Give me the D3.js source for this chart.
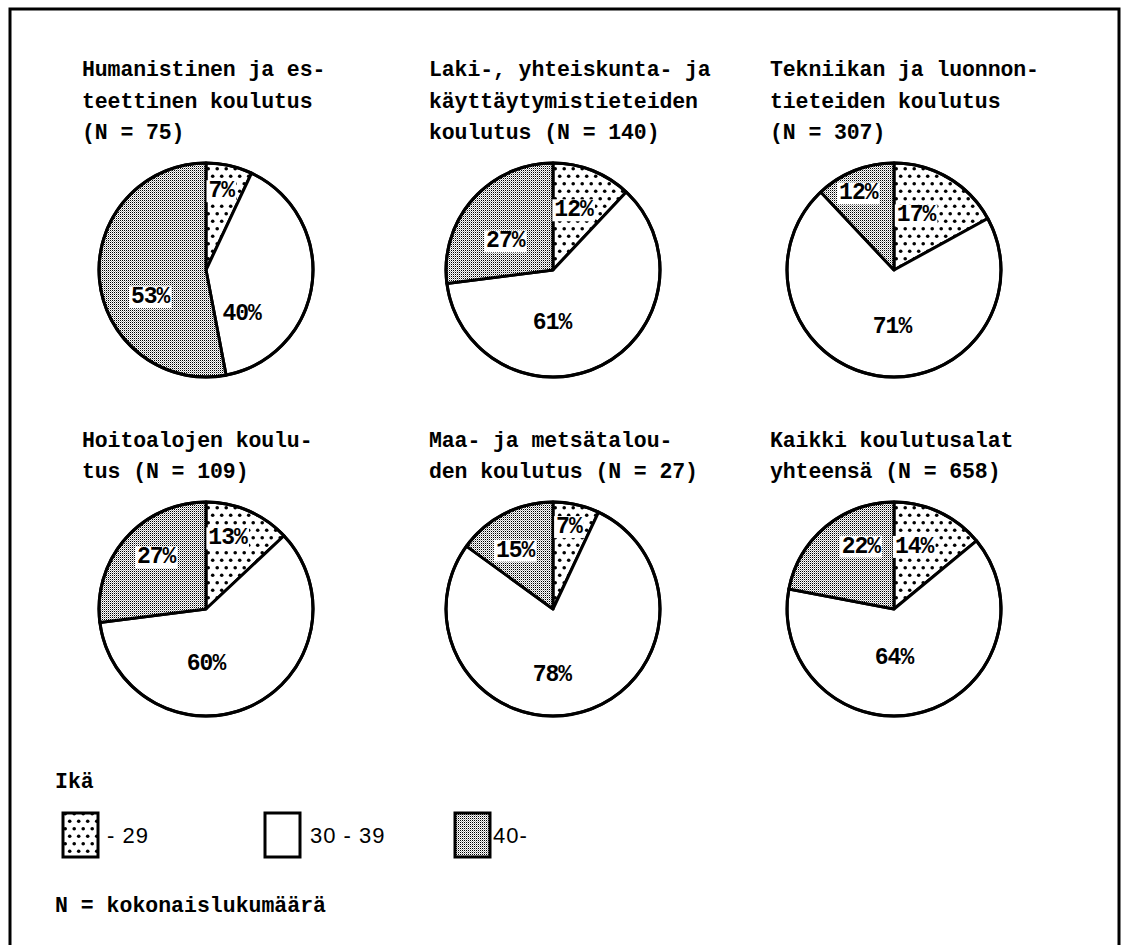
<!DOCTYPE html>
<html><head><meta charset="utf-8">
<script src="https://cdn.jsdelivr.net/npm/d3@7"></script>
<style>body{margin:0;background:#fff}svg{display:block}</style>
</head><body>
<script>
// ---- data ----
const ageGroups = ["- 29", "30 - 39", "40-"];
const titles = [
  ["Humanistinen ja es-", "teettinen koulutus", "(N = 75)"],
  ["Laki-, yhteiskunta- ja", "käyttäytymistieteiden", "koulutus (N = 140)"],
  ["Tekniikan ja luonnon-", "tieteiden koulutus", "(N = 307)"],
  ["Hoitoalojen koulu-", "tus (N = 109)"],
  ["Maa- ja metsätalou-", "den koulutus (N = 27)"],
  ["Kaikki koulutusalat", "yhteensä (N = 658)"]
];
const shareUnder30 = [7, 12, 17, 13, 7, 14];
const share30to39 = [40, 61, 71, 60, 78, 64];
const share40plus = [53, 27, 12, 27, 15, 22];
const legendTitle = "Ikä";
const footnote = "N = kokonaislukumäärä";

// ---- layout (not data) ----
const W = 1122, H = 945;
const colX = [206, 553, 894];
const rowY = [270, 609];
const R = 107;
// label placement: [angle deg clockwise from top, radius fraction] per slice
const labelPolar = [
  [[11, 0.75], [141, 0.53], [244, 0.58]],
  [[19, 0.59], [181, 0.50], [301, 0.52]],
  [[22, 0.55], [182, 0.53], [335, 0.79]],
  [[17, 0.69], [180, 0.51], [316, 0.67]],
  [[11, 0.78], [181, 0.62], [327, 0.65]],
  [[18, 0.61], [180, 0.46], [332, 0.66]]
];
const legendBoxX = [63, 265, 455];
const legendTextGap = [44, 45, 38];

const svg = d3.select("body").append("svg").attr("width", W).attr("height", H);
const defs = svg.append("defs");
const pDot = defs.append("pattern").attr("id", "dots").attr("patternUnits", "userSpaceOnUse")
  .attr("width", 9).attr("height", 15);
pDot.append("rect").attr("width", 9).attr("height", 15).attr("fill", "#fff");
pDot.append("circle").attr("cx", 2.2).attr("cy", 3.7).attr("r", 1.8).attr("fill", "#000");
pDot.append("circle").attr("cx", 6.7).attr("cy", 11.2).attr("r", 1.8).attr("fill", "#000");
const pGray = defs.append("pattern").attr("id", "gray").attr("patternUnits", "userSpaceOnUse")
  .attr("width", 2).attr("height", 2);
pGray.append("rect").attr("width", 2).attr("height", 2).attr("fill", "#fff");
pGray.append("rect").attr("width", 1).attr("height", 1).attr("fill", "#000").attr("shape-rendering", "crispEdges");
pGray.append("rect").attr("x", 1).attr("y", 1).attr("width", 1).attr("height", 1).attr("fill", "#aaa").attr("shape-rendering", "crispEdges");

const fillScale = d3.scaleOrdinal().domain(ageGroups).range(["url(#dots)", "#fff", "url(#gray)"]);

// frame
svg.append("path")
  .attr("d", `M10,${H} L10,9 L1119,9 L1119,${H}`)
  .attr("fill", "none").attr("stroke", "#000").attr("stroke-width", 3);

const monoFont = "'Liberation Mono', 'DejaVu Sans Mono', monospace";
const pie = d3.pie().sort(null).value(d => d.v);
const arc = d3.arc().innerRadius(0).outerRadius(R);

titles.forEach((t, i) => {
  const cx = colX[i % 3], cy = rowY[Math.floor(i / 3)];
  const g = svg.append("g").attr("transform", `translate(${cx},${cy})`);
  const vals = [shareUnder30[i], share30to39[i], share40plus[i]];
  const arcs = pie(vals.map((v, k) => ({ k: ageGroups[k], v })));
  g.selectAll("path.slice").data(arcs).join("path")
    .attr("class", "slice")
    .attr("d", arc)
    .attr("fill", d => fillScale(d.data.k))
    .attr("stroke", "#000").attr("stroke-width", 3).attr("stroke-linejoin", "round");
  g.append("circle").attr("r", R).attr("fill", "none").attr("stroke", "#000").attr("stroke-width", 3);

  arcs.forEach((a, k) => {
    const [ang, rf] = labelPolar[i][k];
    const th = ang * Math.PI / 180;
    const x = Math.sin(th) * R * rf, y = -Math.cos(th) * R * rf;
    const lg = g.append("g");
    const txt = lg.append("text").attr("x", x).attr("y", y)
      .attr("text-anchor", "middle").attr("dominant-baseline", "central")
      .attr("font-family", monoFont).attr("font-weight", "bold")
      .attr("font-size", 23).attr("letter-spacing", -1)
      .text(a.data.v + "%");
    if (a.data.k !== ageGroups[1]) {
      const bb = txt.node().getBBox();
      lg.insert("rect", "text").attr("x", bb.x - 2).attr("y", bb.y + 2)
        .attr("width", bb.width + 3).attr("height", bb.height - 4).attr("fill", "#fff");
    }
  });

  const n = t.length;
  const lastBase = cy - 131, lh = 31.5;
  t.forEach((line, j) => {
    svg.append("text").attr("x", cx - 124).attr("y", lastBase - (n - 1 - j) * lh)
      .attr("font-family", monoFont).attr("font-weight", "bold")
      .attr("font-size", 21.5).attr("letter-spacing", -0.1)
      .style("white-space", "pre")
      .text(line);
  });
});

// legend
svg.append("text").attr("x", 55).attr("y", 788)
  .attr("font-family", monoFont).attr("font-weight", "bold").attr("font-size", 21.5)
  .text(legendTitle);
const legX = d3.scaleOrdinal().domain(ageGroups).range(legendBoxX);
const legGap = d3.scaleOrdinal().domain(ageGroups).range(legendTextGap);
const lg = svg.append("g");
ageGroups.forEach(a => {
  const x = legX(a);
  lg.append("rect").attr("x", x).attr("y", 813).attr("width", 35).attr("height", 44)
    .attr("fill", fillScale(a)).attr("stroke", "#000").attr("stroke-width", 3);
  lg.append("text").attr("x", x + legGap(a)).attr("y", 843)
    .attr("font-family", "'Liberation Sans', Arial, sans-serif").attr("font-size", 22)
    .attr("letter-spacing", 1).style("white-space", "pre")
    .text(a);
});
svg.append("text").attr("x", 55).attr("y", 912)
  .attr("font-family", monoFont).attr("font-weight", "bold").attr("font-size", 21.5)
  .style("white-space", "pre")
  .text(footnote);
</script>
</body></html>
